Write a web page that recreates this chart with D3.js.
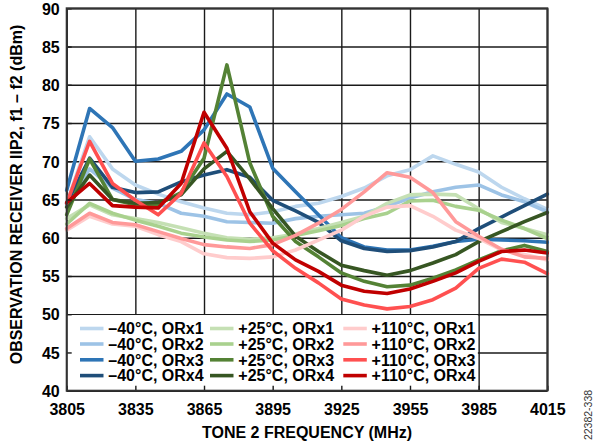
<!DOCTYPE html>
<html><head><meta charset="utf-8">
<script src="https://cdn.jsdelivr.net/npm/d3@7"></script>
<style>
html,body{margin:0;padding:0;background:#fff;}
svg text{font-family:"Liberation Sans",Arial,sans-serif;}
</style></head>
<body>
<svg id="chart" width="597" height="446"></svg>
<script>
const freqs = [3805,3815,3825,3835,3845,3855,3865,3875,3885,3895,3905,3915,3925,3935,3945,3955,3965,3975,3985,3995,4005,4015];
const xTickValues = [3805,3835,3865,3895,3925,3955,3985,4015];
const yTickValues = [40,45,50,55,60,65,70,75,80,85,90];

const m40_orx1 = [64.5,73.2,69.0,66.9,65.7,64.7,63.9,63.2,63.0,63.4,64.1,64.5,65.4,66.5,68.1,68.9,70.7,69.6,68.6,66.6,65.1,63.7];
const m40_orx2 = [64.3,69.0,66.5,65.0,64.5,63.2,62.8,62.1,62.0,61.9,62.5,62.8,63.0,63.2,64.1,65.2,66.0,66.6,66.9,65.6,64.7,63.4];
const m40_orx3 = [66.2,76.9,74.4,70.0,70.3,71.3,74.1,78.8,77.1,69.1,66.0,63.0,60.0,58.8,58.4,58.4,58.9,59.5,59.8,59.7,59.6,59.4];
const m40_orx4 = [64.5,70.4,66.6,65.9,66.0,67.3,68.2,68.9,67.9,64.9,63.5,62.0,59.6,58.6,58.2,58.3,58.8,59.5,61.2,62.7,64.2,65.7];
const p25_orx1 = [62.5,64.3,63.0,62.5,62.0,61.3,60.6,60.0,59.8,60.0,60.5,61.2,62.0,62.8,64.5,65.6,65.7,65.6,63.8,62.0,61.2,60.4];
const p25_orx2 = [61.8,64.5,63.2,62.3,61.5,60.6,60.1,59.7,59.5,59.7,60.3,60.9,61.6,62.5,63.2,64.8,64.9,64.1,63.6,62.3,61.2,59.9];
const p25_orx3 = [63.0,70.3,65.0,64.3,64.4,65.9,70.4,82.6,69.8,62.8,59.5,57.5,55.4,54.3,53.6,53.8,54.7,55.8,57.1,58.3,59.0,58.2];
const p25_orx4 = [64.0,68.2,65.0,64.5,64.6,65.6,69.0,71.3,67.7,63.8,60.2,58.2,56.4,55.7,55.1,55.7,56.7,57.8,59.5,60.8,62.1,63.3];
const p110_orx1 = [61.0,62.8,61.8,61.5,60.4,59.5,57.9,57.4,57.3,57.5,58.4,59.7,61.0,62.8,64.0,64.2,62.8,61.0,59.9,58.4,57.8,57.1];
const p110_orx2 = [61.2,63.2,62.0,61.7,60.8,59.9,59.1,58.8,58.6,59.1,60.3,61.9,63.7,66.0,68.5,67.9,65.9,62.1,60.2,58.5,57.5,57.3];
const p110_orx3 = [64.5,72.6,67.1,64.9,63.0,65.8,72.4,68.0,61.9,58.3,56.0,54.1,52.0,51.2,50.7,51.0,51.9,53.4,56.0,57.2,56.8,55.3];
const p110_orx4 = [64.6,67.1,64.2,64.0,63.9,67.1,76.4,71.7,63.4,59.3,57.1,55.6,53.8,53.0,52.7,53.3,54.3,55.4,56.9,58.2,58.4,58.0];

const seriesNames = ["–40°C, ORx1","–40°C, ORx2","–40°C, ORx3","–40°C, ORx4",
  "+25°C, ORx1","+25°C, ORx2","+25°C, ORx3","+25°C, ORx4",
  "+110°C, ORx1","+110°C, ORx2","+110°C, ORx3","+110°C, ORx4"];
const seriesValues = [m40_orx1,m40_orx2,m40_orx3,m40_orx4,p25_orx1,p25_orx2,p25_orx3,p25_orx4,p110_orx1,p110_orx2,p110_orx3,p110_orx4];
const seriesColors = ["#bdd7ee","#9dc3e6","#2e75b6","#1f4e79",
  "#c5e0b4","#a9d18e","#548235","#375623",
  "#ffcccc","#ff9999","#ff5050","#c00000"];

const xLabel = "TONE 2 FREQUENCY (MHz)";
const yLabel = "OBSERVATION RECEIVER IIP2, f1 – f2 (dBm)";
const figId = "22382-338";

const L = 66.7, R = 547.3, T = 8.3, B = 390.7;
const svg = d3.select("#chart");
const x = d3.scaleLinear().domain([3805,4015]).range([L,R]);
const y = d3.scaleLinear().domain([40,90]).range([B,T]);

// gridlines
svg.append("g").attr("transform",`translate(0,${B})`)
  .call(d3.axisBottom(x).tickValues(xTickValues).tickSize(-(B-T)).tickFormat(""))
  .call(g=>g.select(".domain").remove())
  .call(g=>g.selectAll("line").attr("stroke","#1a1a1a").attr("stroke-width",1.4));
svg.append("g").attr("transform",`translate(${L},0)`)
  .call(d3.axisLeft(y).tickValues(yTickValues).tickSize(-(R-L)).tickFormat(""))
  .call(g=>g.select(".domain").remove())
  .call(g=>g.selectAll("line").attr("stroke","#1a1a1a").attr("stroke-width",1.4));

// lines
const line = d3.line().x((d,i)=>x(freqs[i])).y(d=>y(d));
seriesValues.forEach((vals,k)=>{
  svg.append("path").datum(vals).attr("d",line)
    .attr("fill","none").attr("stroke",seriesColors[k])
    .attr("stroke-width",3.6).attr("stroke-linejoin","round").attr("stroke-linecap","round");
});

// legend box
svg.append("rect").attr("x",L+0.8).attr("y",y(50)+0.8).attr("width",x(3985)-L-1.6).attr("height",B-y(50)-1.6).attr("fill","#fff");

// inner ticks along bottom within legend
svg.append("g").attr("transform",`translate(0,${B})`)
  .call(d3.axisBottom(x).tickValues(xTickValues).tickSize(-5).tickFormat(""))
  .call(g=>g.select(".domain").remove())
  .call(g=>g.selectAll("line").attr("stroke","#1a1a1a").attr("stroke-width",1.4));
svg.append("g").attr("transform",`translate(${L},0)`)
  .call(d3.axisLeft(y).tickValues(yTickValues).tickSize(-5).tickFormat(""))
  .call(g=>g.select(".domain").remove())
  .call(g=>g.selectAll("line").attr("stroke","#1a1a1a").attr("stroke-width",1.4));

// frame
svg.append("rect").attr("x",L).attr("y",T).attr("width",R-L).attr("height",B-T)
  .attr("fill","none").attr("stroke","#333").attr("stroke-width",2);

// tick labels
svg.append("g").attr("transform",`translate(0,${B})`)
  .call(d3.axisBottom(x).tickValues(xTickValues).tickSize(0).tickPadding(0).tickFormat(d3.format("d")))
  .call(g=>g.select(".domain").remove())
  .call(g=>g.selectAll("text").attr("dy",null).attr("y",24.5).attr("font-size","16px").attr("font-weight","bold").attr("fill","#000").attr("font-family","Liberation Sans, Arial, sans-serif"));
svg.append("g").attr("transform",`translate(${L},0)`)
  .call(d3.axisLeft(y).tickValues(yTickValues).tickSize(0).tickPadding(0).tickFormat(d3.format("d")))
  .call(g=>g.select(".domain").remove())
  .call(g=>g.selectAll("text").attr("x",-7).attr("dy","0.36em").attr("font-size","16px").attr("font-weight","bold").attr("fill","#000").attr("font-family","Liberation Sans, Arial, sans-serif"));

// axis titles
svg.append("text").attr("x",(L+R)/2).attr("y",438).attr("text-anchor","middle")
  .attr("font-size","16px").attr("font-weight","bold").text(xLabel);
svg.append("text").attr("transform","translate(22,194.5) rotate(-90)").attr("text-anchor","middle")
  .attr("font-size","16px").attr("font-weight","bold").text(yLabel);
svg.append("text").attr("transform","translate(592,415) rotate(-90)").attr("text-anchor","middle")
  .attr("font-size","10.5px").attr("fill","#333").text(figId);

// legend
const colLineX = [80,210,343.3];
const rowY = [328.5,344,359.8,375.6];
seriesNames.forEach((name,k)=>{
  const c = Math.floor(k/4), r = k%4;
  const g = svg.append("g");
  g.append("line").attr("x1",colLineX[c]).attr("x2",colLineX[c]+23.5)
    .attr("y1",rowY[r]).attr("y2",rowY[r]).attr("stroke",seriesColors[k]).attr("stroke-width",3.6);
  g.append("text").attr("x",colLineX[c]+28.3).attr("y",rowY[r]+5.8)
    .attr("font-size","16px").attr("font-weight","bold").attr("fill","#000").text(name);
});
</script>
</body></html>
